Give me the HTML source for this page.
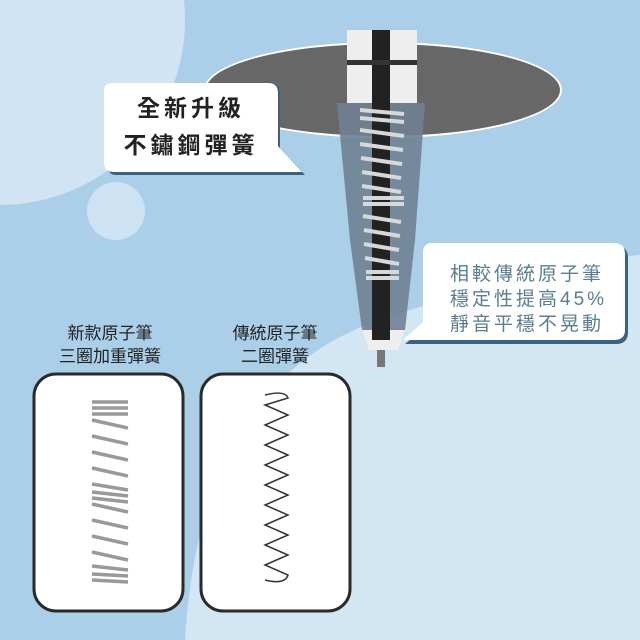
<!DOCTYPE html>
<html><head><meta charset="utf-8"><style>
body{margin:0}
#c{position:relative;width:640px;height:640px;overflow:hidden;background:#abcfe9;font-family:"Liberation Sans","Noto Sans CJK TC",sans-serif}
.abs{position:absolute}
</style></head><body><div id="c">
<svg class="abs" style="left:0;top:0" width="640" height="640">
<circle cx="0" cy="20" r="185" fill="#d0e4f4"/>
<circle cx="116" cy="211" r="29" fill="#cde2f3"/>
<path d="M185 640 C195 470 260 360 380 320 C470 290 560 262 640 255 L640 640 Z" fill="#d3e6f4"/>
<ellipse cx="383" cy="90" rx="179" ry="48" fill="#fff"/>
<ellipse cx="383" cy="90" rx="177" ry="46" fill="#676767"/>
<!-- pen body -->
<path d="M337 103 L425 103 L415 240 L405 330 L362 330 L350 240 Z" fill="#6f8193" opacity="0.9"/>
<path d="M362 330 L405 330 L398 350 L369 350Z" fill="#eee"/>
<rect x="377" y="350" width="8" height="17" fill="#777"/>
<rect x="347" y="30" width="70" height="73" fill="#eeeeee"/>
<rect x="372" y="30" width="18" height="310" fill="#222"/>
<rect x="347" y="60" width="70" height="5" fill="#333"/>
<g stroke="#d8d8d8" stroke-width="4" fill="none">
<path d="M360 110 L404 114 M360 118 L404 122 M360 130 L404 136 M360 144 L403 150 M361 158 L402 164 M362 172 L401 178 M362 186 L401 192 M363 198 L404 198 M363 204 L404 204 M363 216 L401 222 M364 230 L400 236 M364 244 L399 250 M365 258 L399 264 M366 272 L399 272 M366 278 L399 278"/>
</g>
</svg>
<!-- bubble 1 -->
<svg class="abs" style="left:100px;top:80px" width="210" height="100">
<path d="M8 8 Q8 3 16 3 L170 3 Q180 3 180 13 L180 68 L205 95 L16 95 Q8 95 8 86 Z" fill="#3c627f"/>
<path d="M4 10 Q4 3 14 3 L168 3 Q178 3 178 13 L178 66 L202 92 L14 92 Q4 92 4 82 Z" fill="#fff"/>
</svg>
<div class="abs" style="left:104px;top:90px;width:174px;text-align:center;font-weight:bold;font-size:23px;line-height:37px;color:#222;letter-spacing:4px">全新升級<br>不鏽鋼彈簧</div>
<!-- bubble 2 -->
<svg class="abs" style="left:400px;top:240px" width="240" height="110">
<path d="M26 12 Q26 6 36 6 L216 6 Q228 6 228 18 L228 92 Q228 104 216 104 L5 104 L26 86 Z" fill="#3c627f"/>
<path d="M23 12 Q23 3 33 3 L214 3 Q225 3 225 14 L225 90 Q225 100 214 100 L3 100 L23 82 Z" fill="#fff"/>
</svg>
<div class="abs" style="left:450px;top:262px;width:180px;font-size:19px;line-height:25px;color:#5b7e8f;letter-spacing:3px">相較傳統原子筆<br>穩定性提高45%<br>靜音平穩不晃動</div>
<div class="abs" style="left:30px;top:322px;width:160px;text-align:center;font-size:17px;line-height:23px;color:#222">新款原子筆<br>三圈加重彈簧</div>
<div class="abs" style="left:195px;top:322px;width:160px;text-align:center;font-size:17px;line-height:23px;color:#222">傳統原子筆<br>二圈彈簧</div>
<svg class="abs" style="left:0;top:0" width="640" height="640">
<rect x="34" y="374" width="149" height="237" rx="22" fill="#fff" stroke="#2a2a2a" stroke-width="3"/>
<rect x="201" y="374" width="149" height="237" rx="22" fill="#fff" stroke="#2a2a2a" stroke-width="3"/>
<g stroke="#999" stroke-width="3.5" fill="none">
<path d="M92 402 L128 402 M92 408 L128 408 M92 414 L128 414 M92 420 L128 428 M92 436 L128 444 M92 452 L128 460 M92 468 L128 476 M92 484 L128 490 M92 492 L128 496 M92 498 L128 502 M92 504 L128 512 M92 520 L128 528 M92 536 L128 544 M92 552 L128 560 M92 566 L128 570 M92 574 L128 576 M92 580 L128 582"/>
</g>
<path d="M265 395 Q285 390 288 398 L265 405 L288 415 L265 425 L288 435 L265 445 L288 455 L265 465 L288 475 L265 485 L288 495 L265 505 L288 515 L265 525 L288 535 L265 545 L288 555 L265 565 L288 575 Q285 585 265 580" stroke="#333" stroke-width="1.5" fill="none"/>
</svg>
</div></body></html>
